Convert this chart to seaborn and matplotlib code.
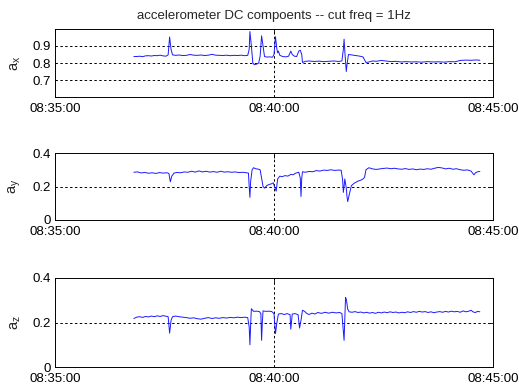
import matplotlib
matplotlib.use("Agg")
import matplotlib.pyplot as plt
import seaborn as sns

# time in seconds after 08:35:00
ax_t = [108,112,116,120,124,128,132,136,140,144,148,152,155,157,159,161,165,170,175,180,185,190,195,200,205,210,215,220,225,230,235,240,245,250,255,260,264,266,267,269,271,273,276,279,281,283,285,287,290,294,298,300,302,304,305,306,308,312,316,320,323,325,328,331,334,336,338,339,343,348,355,362,368,375,382,388,393,395,396,397,399,400,402,406,410,415,420,422,426,430,435,440,447,453,460,467,474,481,488,495,502,510,518,525,533,540,548,555,562,570,577,582]
ax_v = [0.838,0.838,0.840,0.837,0.842,0.843,0.841,0.844,0.843,0.846,0.842,0.840,0.848,0.953,0.880,0.848,0.845,0.847,0.844,0.845,0.850,0.846,0.845,0.847,0.844,0.846,0.851,0.846,0.845,0.844,0.846,0.843,0.845,0.844,0.846,0.843,0.845,0.880,0.985,0.900,0.800,0.790,0.793,0.800,0.840,0.960,0.900,0.838,0.835,0.836,0.834,0.850,0.955,0.880,0.860,0.870,0.845,0.838,0.836,0.840,0.870,0.850,0.840,0.838,0.870,0.875,0.850,0.803,0.810,0.812,0.809,0.811,0.808,0.810,0.812,0.809,0.812,0.880,0.940,0.870,0.750,0.790,0.850,0.848,0.845,0.842,0.838,0.835,0.803,0.806,0.812,0.810,0.815,0.812,0.808,0.810,0.806,0.808,0.806,0.807,0.805,0.808,0.806,0.807,0.805,0.808,0.807,0.815,0.817,0.816,0.818,0.816]

ay_t = [108,113,118,123,128,133,138,143,148,153,156,158,160,163,167,172,177,182,187,192,197,202,207,212,217,222,227,232,237,242,247,252,257,262,265,266,267,268,270,272,275,278,281,283,285,287,290,293,296,299,301,303,305,308,311,315,319,323,326,330,334,336,337,338,339,343,348,353,358,363,368,373,378,383,388,392,394,395,396,397,399,400,401,403,406,410,415,419,422,424,426,430,435,440,445,450,455,460,465,470,475,480,485,490,495,500,505,510,515,520,525,530,535,540,545,550,555,560,565,570,572,574,576,579,582]
ay_v = [0.285,0.287,0.281,0.284,0.279,0.282,0.278,0.283,0.280,0.282,0.278,0.228,0.262,0.280,0.284,0.282,0.287,0.285,0.291,0.286,0.293,0.287,0.291,0.286,0.289,0.285,0.291,0.286,0.288,0.285,0.287,0.283,0.285,0.282,0.280,0.200,0.135,0.230,0.300,0.312,0.306,0.304,0.300,0.250,0.200,0.190,0.205,0.212,0.215,0.222,0.195,0.172,0.245,0.262,0.258,0.265,0.262,0.272,0.270,0.280,0.285,0.250,0.140,0.250,0.288,0.285,0.290,0.288,0.295,0.292,0.298,0.296,0.300,0.296,0.298,0.297,0.240,0.165,0.200,0.245,0.190,0.140,0.110,0.150,0.205,0.220,0.232,0.238,0.245,0.255,0.300,0.312,0.305,0.302,0.305,0.308,0.310,0.306,0.309,0.305,0.303,0.307,0.302,0.305,0.300,0.304,0.302,0.306,0.303,0.309,0.314,0.311,0.305,0.309,0.303,0.306,0.300,0.297,0.299,0.292,0.280,0.270,0.282,0.288,0.290]

az_t = [108,112,116,120,124,128,132,136,140,144,148,152,155,157,159,161,165,170,175,180,185,190,195,200,205,210,215,220,225,230,235,240,245,250,255,260,264,266,267,268,269,272,276,280,282,283,284,285,289,293,297,300,302,304,306,310,314,318,322,323,325,329,333,335,337,339,342,345,348,352,356,360,365,370,375,380,385,390,393,395,396,397,398,399,401,403,407,411,415,419,423,427,431,435,439,443,447,451,455,459,463,467,471,475,479,483,487,491,495,499,503,507,511,515,519,523,527,531,535,539,543,547,551,555,559,563,567,570,573,576,579,582]
az_v = [0.218,0.224,0.226,0.223,0.227,0.225,0.229,0.226,0.230,0.227,0.231,0.228,0.226,0.152,0.210,0.226,0.229,0.226,0.224,0.222,0.219,0.221,0.217,0.215,0.219,0.222,0.218,0.221,0.219,0.222,0.220,0.223,0.221,0.224,0.222,0.224,0.222,0.180,0.100,0.190,0.262,0.250,0.251,0.249,0.240,0.120,0.200,0.252,0.250,0.251,0.249,0.240,0.150,0.200,0.238,0.240,0.236,0.240,0.235,0.170,0.238,0.240,0.235,0.175,0.210,0.255,0.250,0.240,0.236,0.242,0.238,0.245,0.241,0.246,0.242,0.246,0.243,0.245,0.240,0.160,0.120,0.220,0.313,0.305,0.260,0.248,0.246,0.249,0.245,0.247,0.243,0.246,0.242,0.245,0.241,0.246,0.243,0.247,0.244,0.248,0.245,0.247,0.243,0.246,0.244,0.248,0.245,0.249,0.246,0.250,0.247,0.249,0.245,0.248,0.244,0.247,0.249,0.246,0.250,0.247,0.251,0.248,0.250,0.246,0.252,0.248,0.251,0.255,0.247,0.245,0.250,0.248]

x_ticks = [0, 300, 600]
x_labels = ["08:35:00", "08:40:00", "08:45:00"]
title = "accelerometer DC compoents -- cut freq = 1Hz"

sns.set_style("white")
plt.rcParams['font.family'] = ['Liberation Sans', 'DejaVu Sans']
plt.rcParams['mathtext.fontset'] = 'custom'
plt.rcParams['mathtext.rm'] = 'Liberation Sans'

fig = plt.figure(figsize=(5.19, 3.87), dpi=100)
W, H = 519, 387
boxes = [(29, 97), (153, 220), (278, 367)]
series = [(ax_t, ax_v, (0.6, 1.0), [0.7, 0.8, 0.9], ["0.7", "0.8", "0.9"], r"a$_\mathrm{x}$"),
          (ay_t, ay_v, (0.0, 0.4), [0.0, 0.2, 0.4], ["0", "0.2", "0.4"], r"a$_\mathrm{y}$"),
          (az_t, az_v, (0.0, 0.4), [0.0, 0.2, 0.4], ["0", "0.2", "0.4"], r"a$_\mathrm{z}$")]
fs = 9.5
for (top, bot), (t, v, yl, yt, ytl, lab) in zip(boxes, series):
    ax = fig.add_axes([55 / W, 1 - bot / H, 438 / W, (bot - top) / H])
    sns.lineplot(x=t, y=v, ax=ax, color=(0.1, 0.1, 1), lw=0.7, estimator=None, sort=False)
    ax.set_xlim(0, 600)
    ax.set_ylim(*yl)
    ax.set_xticks(x_ticks)
    ax.set_xticklabels(x_labels, fontsize=fs)
    ax.set_yticks(yt)
    ax.set_yticklabels(ytl, fontsize=fs)
    ax.set_ylabel(lab, fontsize=10.5, labelpad=7)
    for y in yt:
        if yl[0] < y < yl[1]:
            ax.axhline(y, color='black', lw=0.7, ls=(0, (2.5, 2.5)), zorder=0)
    ax.axvline(300, color='black', lw=0.7, ls=(0, (2.5, 2.5)), zorder=0)
    ax.tick_params(direction='in', length=3.5, width=0.6, top=True, right=True, pad=3, colors='black')
    ax.tick_params(axis='x', pad=4.5)
    for s in ax.spines.values():
        s.set_color('black')
        s.set_linewidth(0.7)
    if top == 29:
        ax.set_title(title, fontsize=fs, pad=7)

fig.savefig("out.png", dpi=100)
